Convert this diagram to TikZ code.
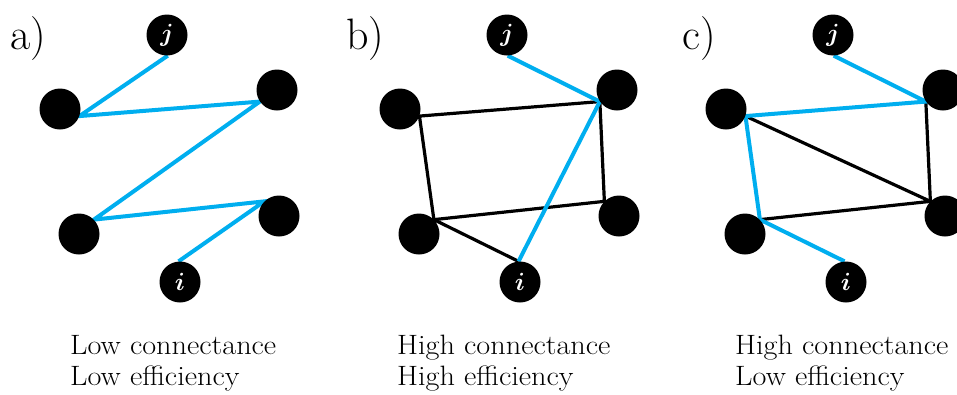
\documentclass[tikz,border=0pt]{standalone}
\usepackage{tikz}
\usetikzlibrary{positioning,backgrounds}
\definecolor{LinkBlue}{RGB}{0,174,239}
\newcommand{\wide}[1]{\scalebox{1.08}[1]{#1}}

\begin{document}
\begin{tikzpicture}[x=1pt,y=-1pt,
  v/.style={circle,fill=black,minimum size=41pt,inner sep=0pt},
  vl/.style={v,text=white,font=\fontsize{28}{28}\selectfont\boldmath},
  bl/.style={line width=4pt,draw=LinkBlue},
  bk/.style={line width=3.2pt,draw=black},
  tag/.style={anchor=base west,inner sep=0pt,font=\fontsize{44}{44}\selectfont},
  desc/.style={anchor=base west,inner sep=0pt,font=\fontsize{28}{31}\selectfont}]
\useasboundingbox (0,0) rectangle (957,394);
% a) low connectance, low efficiency
\node[tag] (ta) at (10,49) {a)};
\node[vl] (aj) at (167,35) {$j$};
\node[v] (aL) at (60,109) {};
\node[v] (aTR) at (277,90) {};
\node[v] (aBL) at (79,234) {};
\node[v] (aBR) at (279,216) {};
\node[vl] (ai) at (180,282) {$i$};
\node[desc] (ca1) at (70,354) {\wide{Low connectance}};
\node[desc] (ca2) at (70,385) {\wide{Low efficiency}};
% b) high connectance, high efficiency
\node[tag] (tb) at (346,49) {b)};
\node[vl] (bj) at (507,35) {$j$};
\node[v] (bL) at (400,109) {};
\node[v] (bTR) at (617,90) {};
\node[v] (bBL) at (419,234) {};
\node[v] (bBR) at (619,216) {};
\node[vl] (bi) at (520,282) {$i$};
\node[desc] (cb1) at (397,354) {\wide{High connectance}};
\node[desc] (cb2) at (397,385) {\wide{High efficiency}};
% c) high connectance, low efficiency
\node[tag] (tc) at (682,49) {c)};
\node[vl] (cj) at (833,35) {$j$};
\node[v] (cL) at (726,109) {};
\node[v] (cTR) at (943,90) {};
\node[v] (cBL) at (745,234) {};
\node[v] (cBR) at (945,216) {};
\node[vl] (ci) at (846,282) {$i$};
\node[desc] (cc1) at (735,354) {\wide{High connectance}};
\node[desc] (cc2) at (735,385) {\wide{Low efficiency}};
\begin{scope}[on background layer]
\draw[bl] (aj.-88)--(aL.-20)--(aTR.-146)--(aBL.44)--(aBR.135)--(ai.94);
\draw[bk] (bTR.-146)--(bL.-20)--(bBL.44)--(bBR.135)--(bTR.-146);
\draw[bk] (bBL.44)--(bi.94);
\draw[bl] (bj.-88)--(bTR.-146)--(bi.94);
\draw[bk] (cL.-20)--(cBR.135)--(cBL.44);
\draw[bk] (cTR.-146)--(cBR.135);
\draw[bl] (cj.-88)--(cTR.-146)--(cL.-20)--(cBL.44)--(ci.94);
\end{scope}
\end{tikzpicture}
\end{document}
